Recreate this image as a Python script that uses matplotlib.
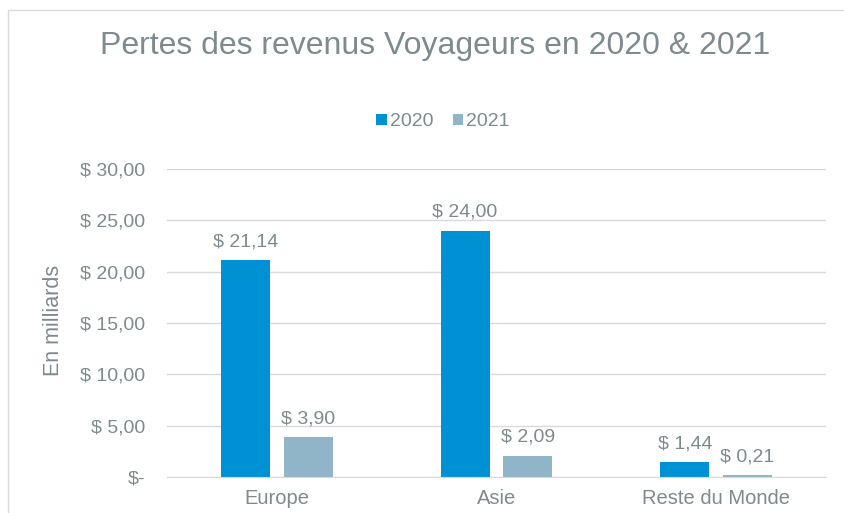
import matplotlib
matplotlib.use("Agg")
import matplotlib.pyplot as plt
from matplotlib.patches import Rectangle
import numpy as np

categories = ["Europe", "Asie", "Reste du Monde"]
series_names = ["2020", "2021"]
values_2020 = [21.14, 24.00, 1.44]
values_2021 = [3.90, 2.09, 0.21]
yticks = [0, 5, 10, 15, 20, 25, 30]

c2020 = "#0091D5"
c2021 = "#90B5C8"
txt = "#7F8A8E"
grid = "#D9D9D9"

plt.rcParams['font.family'] = ['Liberation Sans', 'DejaVu Sans']

W, H = 845, 513
fig = plt.figure(figsize=(W/100, H/100), dpi=100)
fig.patches.append(Rectangle((8/W, -0.1), 1.2, 1.1 - 10/H, transform=fig.transFigure,
                             fill=False, edgecolor="#D9D9D9", linewidth=1.0))

x0, x1 = 167, 826
y0, y1 = 477, 169
ax = fig.add_axes([x0/W, 1 - y0/H, (x1-x0)/W, (y0-y1)/H])

def fmt(v):
    if v == 0:
        return "$-"
    return "$ " + f"{v:.2f}".replace(".", ",")

x = np.arange(len(categories))
bw = 0.223
off = 0.143
b1 = ax.bar(x - off, values_2020, bw, color=c2020, label=series_names[0], zorder=3)
b2 = ax.bar(x + off, values_2021, bw, color=c2021, label=series_names[1], zorder=3)

for bars, vals in ((b1, values_2020), (b2, values_2021)):
    for r, v in zip(bars, vals):
        ax.annotate(fmt(v), (r.get_x() + r.get_width()/2, v), xytext=(0, 7),
                    textcoords="offset points", ha="center", va="bottom",
                    fontsize=14, color=txt)

ax.set_xlim(-0.5, 2.5)
ax.set_ylim(0, 30)
ax.set_yticks(yticks)
ax.set_yticklabels([fmt(v) for v in yticks])
ax.set_xticks(x)
ax.set_xticklabels(categories)
ax.tick_params(axis="both", length=0, labelsize=14, colors=txt)
ax.tick_params(axis="y", pad=16)
ax.tick_params(axis="x", pad=9, labelsize=14.5)
ax.yaxis.grid(True, color=grid, linewidth=1.0, zorder=0)
for s in ["top", "right", "left"]:
    ax.spines[s].set_visible(False)
ax.spines["bottom"].set_color(grid)
ax.spines["bottom"].set_zorder(4)

ax.set_ylabel("En milliards", fontsize=15.5, color=txt)
ax.yaxis.set_label_coords((64 - x0)/(x1 - x0), (477 - 320)/(y0 - y1))

fig.text(435/W, 1 - 46/H, "Pertes des revenus Voyageurs en 2020 & 2021",
         ha="center", va="center", fontsize=23, color=txt)

leg = fig.legend(loc="center", bbox_to_anchor=(443/W, 1 - 122/H), ncol=2, frameon=False,
                 fontsize=14, handlelength=0.55, handleheight=0.55, handletextpad=0.15,
                 columnspacing=1.0)
for t in leg.get_texts():
    t.set_color(txt)

fig.savefig("out.png", dpi=100)
